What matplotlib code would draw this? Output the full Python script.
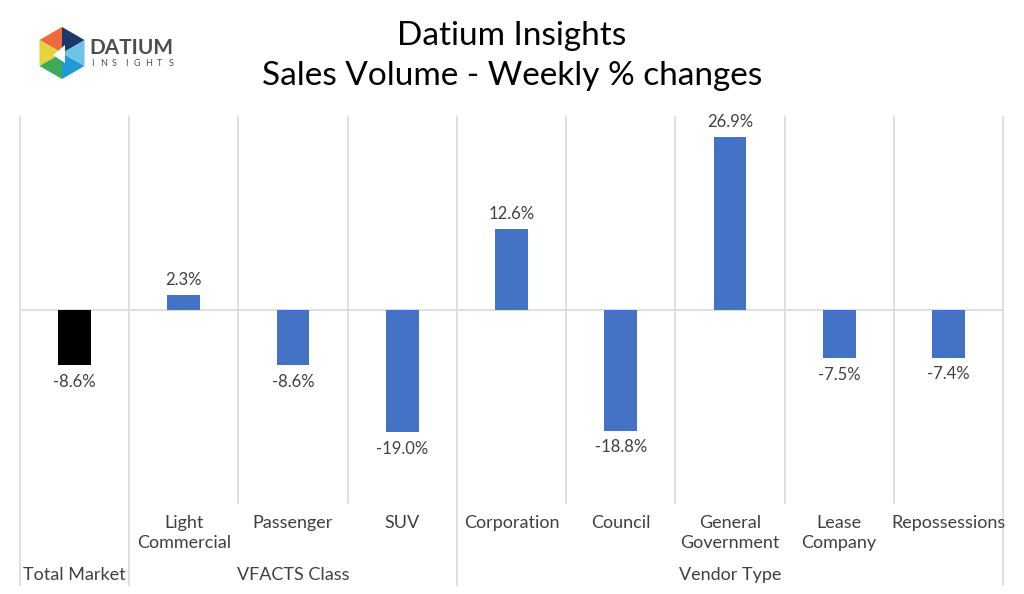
import matplotlib.pyplot as plt
from matplotlib.patches import Polygon
import matplotlib.transforms as mtransforms
import numpy as np

plt.rcParams['font.family'] = ['Lato', 'DejaVu Sans']

# data
categories = ["Total Market", "Light\nCommercial", "Passenger", "SUV", "Corporation",
              "Council", "General\nGovernment", "Lease\nCompany", "Repossessions"]
values = [-8.6, 2.3, -8.6, -19.0, 12.6, -18.8, 26.9, -7.5, -7.4]
groups = ["Total Market", "VFACTS Class", "Vendor Type"]
group_spans = [(0, 0), (1, 3), (4, 8)]
bar_colors = ["#000000"] + ["#4472C4"] * 8

W, H = 1024, 594
fig = plt.figure(figsize=(W / 100, H / 100), dpi=100)

# axes placed in pixel terms
left, right, top, bottom = 20, 1003, 117, 503
ax = fig.add_axes([left / W, (H - bottom) / H, (right - left) / W, (bottom - top) / H])

x = np.arange(len(values))
ax.bar(x, values, width=0.3, color=bar_colors, zorder=3)
ax.set_xlim(-0.5, len(values) - 0.5)
ax.set_ylim(-30, 30)
ax.axhline(0, color="#D9D9D9", lw=1.2, zorder=1)
for s in ax.spines.values():
    s.set_visible(False)
ax.set_xticks([])
ax.set_yticks([])

# data labels
for xi, v in zip(x, values):
    if v >= 0:
        ax.annotate(f"{v:.1f}%", (xi, v), xytext=(0, 5), textcoords="offset points",
                    ha="center", va="bottom", fontsize=12, color="#404040")
    else:
        ax.annotate(f"{v:.1f}%", (xi, v), xytext=(0, -6), textcoords="offset points",
                    ha="center", va="top", fontsize=12, color="#404040")

# separator lines: inner ones stop at the axis, group boundaries run to the bottom
trans = mtransforms.blended_transform_factory(ax.transData, ax.transAxes)
label_bottom = -(585 - bottom) / (bottom - top)
group_edges = {-0.5} | {e + 0.5 for _, e in group_spans}
for b in np.arange(-0.5, len(values)):
    y0 = label_bottom if b in group_edges else 0
    ax.plot([b, b], [y0, 1], color="#D9D9D9", lw=1.2, transform=trans, clip_on=False, zorder=1)

# category labels
for xi, c in zip(x[1:], categories[1:]):
    ax.text(xi, -0.032, c, transform=trans, ha="center", va="top", fontsize=13,
            color="#404040", linespacing=1.3)
for g, (s, e) in zip(groups, group_spans):
    ax.text((s + e) / 2, -0.187, g, transform=trans, ha="center", va="center",
            fontsize=13, color="#404040")

# title
fig.text(0.5, 1 - 36 / H, "Datium Insights", ha="center", va="center", fontsize=24, color="#000000")
fig.text(0.5, 1 - 76 / H, "Sales Volume - Weekly % changes", ha="center", va="center",
         fontsize=24, color="#000000")

# logo: hexagon made of coloured triangles
cx, cy, r = 62, 53, 26
logo_colors = ["#EE6A3A", "#E4D33C", "#3DAA5A", "#1E9AD6", "#6EC3E8", "#1B3A6B"]
angles = np.deg2rad(np.arange(90, 450, 60))
pts = [(cx + r * np.cos(a), cy - r * np.sin(a)) for a in angles]
for i in range(6):
    p1, p2 = pts[i], pts[(i + 1) % 6]
    tri = [(cx, cy), p1, p2]
    fig.patches.append(Polygon([(px / W, 1 - py / H) for px, py in tri], closed=True,
                               transform=fig.transFigure, color=logo_colors[i], lw=0))
inner = [(cx - 9, cy + 2), (cx + 3, cy - 8), (cx + 3, cy + 10)]
fig.patches.append(Polygon([(px / W, 1 - py / H) for px, py in inner], closed=True,
                           transform=fig.transFigure, color="white", lw=0))
fig.text(89 / W, 1 - 48 / H, "DATIUM", ha="left", va="center", fontsize=15,
         color="#4D4D4D", fontweight="bold")
for i, ch in enumerate("INSIGHTS"):
    fig.text((92 + i * 11.3) / W, 1 - 63 / H, ch, ha="center", va="center", fontsize=6.5,
             color="#4D4D4D")

fig.savefig("out.png", dpi=100)
